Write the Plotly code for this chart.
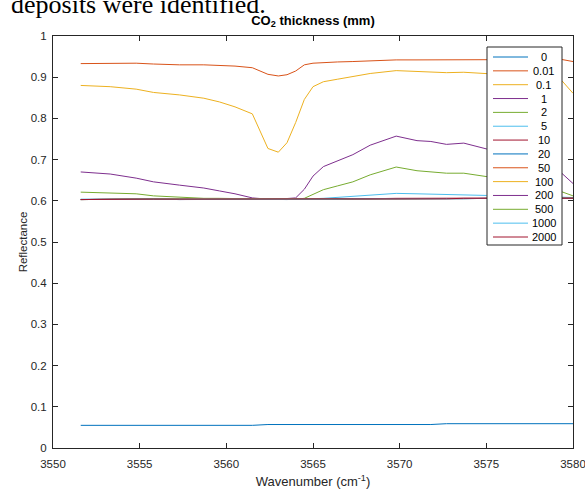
import plotly.graph_objects as go

# ---------------- data ----------------
wavenumber = [3551.6, 3553.3, 3554.8, 3555.8, 3557.3, 3558.7, 3559.6, 3560.5, 3561.5,
              3562.4, 3563.0, 3563.5, 3564.0, 3564.5, 3565.0, 3565.6, 3566.4, 3567.3,
              3568.3, 3569.8, 3571.0, 3571.8, 3572.7, 3573.7, 3575.0, 3576.5, 3578.0,
              3579.35, 3580.0]

thickness_labels = ["0", "0.01", "0.1", "1", "2", "5", "10", "20", "50", "100",
                     "200", "500", "1000", "2000"]

r_0 = [0.055, 0.055, 0.055, 0.055, 0.055, 0.055, 0.055, 0.055, 0.055,
       0.057, 0.057, 0.057, 0.057, 0.057, 0.057, 0.057, 0.057, 0.057,
       0.057, 0.057, 0.057, 0.057, 0.059, 0.059, 0.059, 0.059, 0.059,
       0.059, 0.059]
r_0_01 = [0.933, 0.934, 0.934, 0.932, 0.930, 0.930, 0.929, 0.927, 0.923,
          0.907, 0.903, 0.906, 0.915, 0.930, 0.934, 0.936, 0.937, 0.938,
          0.940, 0.942, 0.942, 0.942, 0.942, 0.943, 0.943, 0.943, 0.943,
          0.943, 0.938]
r_0_1 = [0.880, 0.877, 0.871, 0.863, 0.857, 0.849, 0.840, 0.828, 0.811,
         0.727, 0.718, 0.741, 0.790, 0.846, 0.877, 0.889, 0.895, 0.902,
         0.909, 0.916, 0.914, 0.912, 0.911, 0.912, 0.908, 0.905, 0.902,
         0.892, 0.861]
r_1 = [0.670, 0.665, 0.655, 0.646, 0.638, 0.631, 0.624, 0.617, 0.607,
       0.604, 0.604, 0.605, 0.607, 0.628, 0.660, 0.683, 0.697, 0.712,
       0.735, 0.757, 0.746, 0.744, 0.737, 0.740, 0.726, 0.715, 0.700,
       0.667, 0.642]
r_2 = [0.621, 0.619, 0.617, 0.612, 0.608, 0.606, 0.606, 0.605, 0.604,
       0.604, 0.604, 0.604, 0.604, 0.606, 0.616, 0.627, 0.636, 0.646,
       0.663, 0.682, 0.673, 0.670, 0.667, 0.667, 0.659, 0.650, 0.640,
       0.622, 0.612]
r_5 = [0.604, 0.604, 0.604, 0.604, 0.604, 0.604, 0.604, 0.604, 0.604,
       0.604, 0.604, 0.604, 0.604, 0.604, 0.605, 0.606, 0.608, 0.611,
       0.614, 0.618, 0.617, 0.616, 0.615, 0.614, 0.613, 0.612, 0.611,
       0.609, 0.608]
r_10 = [0.603, 0.604, 0.604, 0.605, 0.604, 0.604, 0.605, 0.604, 0.604,
        0.604, 0.604, 0.604, 0.604, 0.604, 0.604, 0.605, 0.605, 0.605,
        0.605, 0.606, 0.606, 0.606, 0.606, 0.606, 0.606, 0.606, 0.606,
        0.607, 0.607]
r_20 = [0.603, 0.604, 0.604, 0.604, 0.603, 0.604, 0.604, 0.604, 0.604,
        0.603, 0.603, 0.603, 0.604, 0.604, 0.604, 0.604, 0.604, 0.605,
        0.605, 0.605, 0.605, 0.605, 0.605, 0.605, 0.606, 0.606, 0.606,
        0.606, 0.606]
r_50 = [0.603, 0.604, 0.604, 0.604, 0.604, 0.604, 0.604, 0.604, 0.604,
        0.603, 0.603, 0.603, 0.604, 0.604, 0.604, 0.604, 0.604, 0.605,
        0.605, 0.605, 0.605, 0.605, 0.605, 0.605, 0.606, 0.606, 0.606,
        0.606, 0.606]
r_100 = [0.603, 0.604, 0.604, 0.604, 0.604, 0.604, 0.604, 0.604, 0.604,
         0.603, 0.603, 0.603, 0.604, 0.604, 0.604, 0.604, 0.604, 0.605,
         0.605, 0.605, 0.605, 0.605, 0.605, 0.605, 0.606, 0.606, 0.606,
         0.606, 0.606]
r_200 = [0.603, 0.604, 0.604, 0.604, 0.603, 0.603, 0.604, 0.604, 0.604,
         0.603, 0.603, 0.603, 0.604, 0.604, 0.604, 0.604, 0.604, 0.605,
         0.605, 0.605, 0.605, 0.605, 0.605, 0.605, 0.606, 0.606, 0.606,
         0.606, 0.606]
r_500 = [0.603, 0.604, 0.604, 0.604, 0.604, 0.604, 0.604, 0.604, 0.604,
         0.603, 0.603, 0.603, 0.604, 0.604, 0.604, 0.604, 0.604, 0.605,
         0.605, 0.605, 0.605, 0.605, 0.605, 0.605, 0.606, 0.606, 0.606,
         0.606, 0.606]
r_1000 = [0.603, 0.604, 0.604, 0.604, 0.604, 0.604, 0.604, 0.604, 0.604,
          0.603, 0.603, 0.603, 0.604, 0.604, 0.604, 0.604, 0.604, 0.605,
          0.605, 0.605, 0.605, 0.605, 0.605, 0.605, 0.606, 0.606, 0.606,
          0.606, 0.606]
r_2000 = [0.603, 0.604, 0.604, 0.604, 0.604, 0.604, 0.604, 0.604, 0.604,
          0.604, 0.604, 0.604, 0.604, 0.604, 0.604, 0.604, 0.605, 0.605,
          0.605, 0.605, 0.605, 0.605, 0.605, 0.606, 0.606, 0.606, 0.606,
          0.606, 0.606]

series_values = [r_0, r_0_01, r_0_1, r_1, r_2, r_5, r_10, r_20, r_50, r_100,
                 r_200, r_500, r_1000, r_2000]

matlab_colors = ["#0072BD", "#D95319", "#EDB120", "#7E2F8E", "#77AC30", "#4DBEEE", "#A2142F"]

x_ticks = [3550, 3555, 3560, 3565, 3570, 3575, 3580]
y_ticks = [0, 0.1, 0.2, 0.3, 0.4, 0.5, 0.6, 0.7, 0.8, 0.9, 1]
y_ticklabels = ["0", "0.1", "0.2", "0.3", "0.4", "0.5", "0.6", "0.7", "0.8", "0.9", "1"]

# ---------------- layout geometry (pixels) ----------------
W, H = 585, 489
L, R, T, B = 53, 573, 36, 448
AX = "#262626"
FONT = "Liberation Sans, Arial, Helvetica, sans-serif"


def px_x(p):
    return (p - L) / (R - L)


def px_y(p):
    return (B - p) / (B - T)


fig = go.Figure()
for i, (name, vals) in enumerate(zip(thickness_labels, series_values)):
    fig.add_trace(go.Scatter(
        x=wavenumber, y=vals, mode="lines", name=name,
        line=dict(color=matlab_colors[i % 7], width=1),
        showlegend=False, hoverinfo="x+y+name",
    ))

# ---------------- manual MATLAB-style legend ----------------
leg_left, leg_right, leg_top, leg_bottom = 487, 562, 47, 245
shapes = [dict(type="rect", xref="paper", yref="paper",
               x0=px_x(leg_left), x1=px_x(leg_right),
               y0=px_y(leg_bottom), y1=px_y(leg_top),
               line=dict(color=AX, width=1), fillcolor="white", layer="above")]
annotations = []
row0, row_step = 57, (237 - 57) / 13
for i, name in enumerate(thickness_labels):
    yy = row0 + i * row_step
    shapes.append(dict(type="line", xref="paper", yref="paper",
                       x0=px_x(493), x1=px_x(528), y0=px_y(yy), y1=px_y(yy),
                       line=dict(color=matlab_colors[i % 7], width=1), layer="above"))
    annotations.append(dict(xref="paper", yref="paper", x=px_x(543.5), y=px_y(yy),
                            text=name, showarrow=False, xanchor="center", yanchor="middle",
                            font=dict(family=FONT, size=11, color="#000000")))

# cut-off text of the surrounding document
annotations.append(dict(xref="paper", yref="paper", x=px_x(9), y=px_y(4),
                        text="deposits were identified.", showarrow=False,
                        xanchor="left", yanchor="middle",
                        font=dict(family="Liberation Serif, Times New Roman, serif",
                                  size=26, color="#000000")))

fig.update_layout(
    width=W, height=H,
    margin=dict(l=L, r=W - R, t=T, b=H - B, pad=0, autoexpand=False),
    paper_bgcolor="white", plot_bgcolor="white",
    font=dict(family=FONT, size=11, color=AX),
    title=dict(text="<b>CO<sub>2</sub> thickness (mm)</b>", x=313 / W,
               xanchor="center", y=1 - 20 / H, yanchor="middle",
               font=dict(family=FONT, size=13, color="#000000")),
    shapes=shapes,
    annotations=annotations,
    showlegend=False,
)

fig.update_xaxes(
    range=[3550, 3580], tickmode="array", tickvals=x_ticks,
    ticktext=[str(v) for v in x_ticks],
    ticks="inside", ticklen=5, tickcolor=AX, tickwidth=1,
    showline=True, linecolor=AX, linewidth=1, mirror="ticks",
    showgrid=False, zeroline=False, automargin=False,
    ticklabelstandoff=5, ticklabeloverflow="allow",
    tickfont=dict(family=FONT, size=11.5, color=AX),
    title=dict(text="Wavenumber (cm<sup>-1</sup>)", standoff=9,
               font=dict(family=FONT, size=13, color=AX)),
)
fig.update_yaxes(
    range=[0, 1], tickmode="array", tickvals=y_ticks, ticktext=y_ticklabels,
    ticks="inside", ticklen=5, tickcolor=AX, tickwidth=1,
    showline=True, linecolor=AX, linewidth=1, mirror="ticks",
    showgrid=False, zeroline=False, automargin=False,
    ticklabelstandoff=3, ticklabeloverflow="allow",
    tickfont=dict(family=FONT, size=11.5, color=AX),
    title=dict(text="Reflectance", standoff=0,
               font=dict(family=FONT, size=11.5, color=AX)),
)

fig.write_html("out.html",
               config={"displayModeBar": False},
               post_script="document.body.style.margin='0px';document.body.style.padding='0px';")
